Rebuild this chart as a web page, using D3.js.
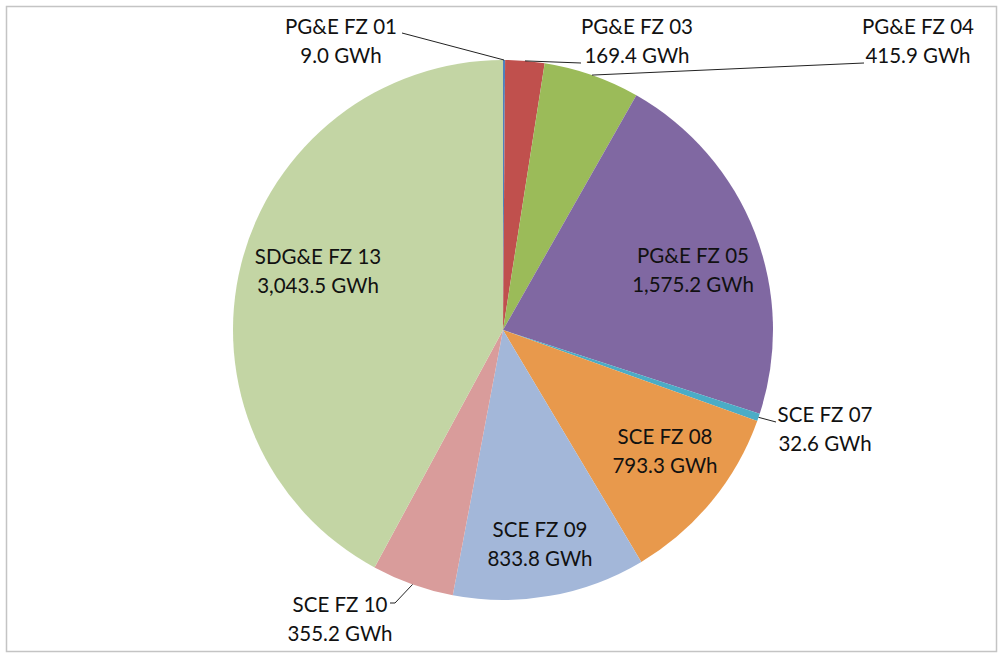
<!DOCTYPE html>
<html>
<head>
  <meta charset="UTF-8">
  <title>GWh by climate zone</title>
  <style>
    body { margin: 0; background: #fff; }
    text { font-family: Lato, "Open Sans", sans-serif; font-size: 20.5px; fill: #111; }
    .leader { stroke: #222; stroke-width: 1; fill: none; }
  </style>
</head>
<body>
  <script src="https://d3js.org/d3.v7.min.js"></script>
  <script>
    const zones = ["PG&E FZ 01", "PG&E FZ 03", "PG&E FZ 04", "PG&E FZ 05", "SCE FZ 07",
                   "SCE FZ 08", "SCE FZ 09", "SCE FZ 10", "SDG&E FZ 13"];
    const gwh = [9.0, 169.4, 415.9, 1575.2, 32.6, 793.3, 833.8, 355.2, 3043.5];
    const colors = ["#4F81BD", "#C0504D", "#9BBB59", "#8068A2", "#4BACC6",
                    "#E8994C", "#A3B7D9", "#D99C9B", "#C3D5A4"];

    // label layout: centre of first text line, and leader end for outside labels
    const labelPos = {
      "PG&E FZ 01": { x: 341, y: 27, lx: 402, ly: 33 },
      "PG&E FZ 03": { x: 637, y: 27, lx: 581, ly: 63 },
      "PG&E FZ 04": { x: 918, y: 27, lx: 864, ly: 63 },
      "PG&E FZ 05": { x: 693, y: 256 },
      "SCE FZ 07": { x: 825, y: 415, lx: 776, ly: 422 },
      "SCE FZ 08": { x: 665, y: 437 },
      "SCE FZ 09": { x: 540, y: 530 },
      "SCE FZ 10": { x: 340, y: 605, lx: 395, ly: 603, hx: 390 },
      "SDG&E FZ 13": { x: 318, y: 257 }
    };

    const width = 1000, height = 654;
    const cx = 503, cy = 330, R = 270;

    const svg = d3.select("body").append("svg").attr("width", width).attr("height", height);

    svg.append("rect")
      .attr("x", 6.5).attr("y", 6.5).attr("width", 990).attr("height", 645)
      .attr("fill", "#fff").attr("stroke", "#c4c4c4").attr("stroke-width", 1.5);

    const data = zones.map((z, i) => ({ zone: z, value: gwh[i], color: colors[i] }));
    const pie = d3.pie().value(d => d.value).sort(null);
    const arcs = pie(data);
    const arc = d3.arc().innerRadius(0).outerRadius(R);

    const g = svg.append("g").attr("transform", `translate(${cx},${cy})`);

    g.selectAll("path.slice").data(arcs).enter().append("path")
      .attr("class", "slice")
      .attr("d", arc)
      .attr("fill", d => d.data.color);

    const fmt = d3.format(",.1f");

    arcs.forEach(d => {
      const o = labelPos[d.data.zone];
      if (o.lx !== undefined) {
        const mid = (d.startAngle + d.endAngle) / 2;
        const sx = cx + R * Math.sin(mid), sy = cy - R * Math.cos(mid);
        const pts = [[sx, sy], [o.lx, o.ly]];
        if (o.hx) pts.push([o.hx, o.ly]);
        svg.append("path").attr("class", "leader").attr("d", d3.line()(pts));
      }
      const t = svg.append("text").attr("text-anchor", "middle");
      t.append("tspan").attr("x", o.x).attr("y", o.y).attr("dy", "0.35em").text(d.data.zone);
      t.append("tspan").attr("x", o.x).attr("y", o.y + 28.5).attr("dy", "0.35em").text(fmt(d.data.value) + " GWh");
    });
  </script>
</body>
</html>
